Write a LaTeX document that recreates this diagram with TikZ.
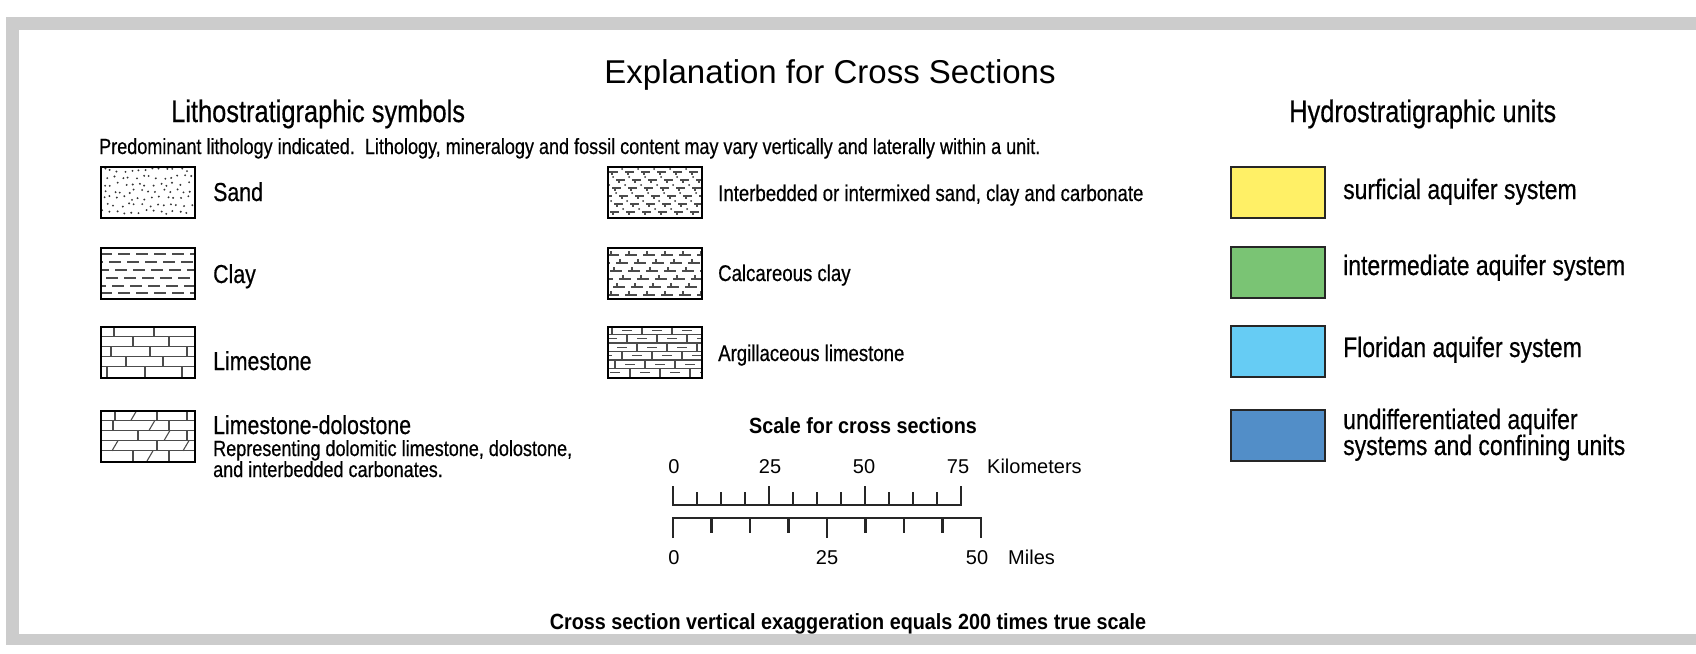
\documentclass[tikz,border=0pt]{standalone}
\usepackage{fontspec}
\setmainfont{Liberation Sans}
\newfontfamily\nar{Liberation Sans}[FakeStretch=0.82,FakeBold=0.5]
\newfontfamily\scl{Liberation Sans}[FakeStretch=0.9]
\definecolor{fgrey}{RGB}{204,204,204}
\definecolor{cyel}{RGB}{255,240,102}
\definecolor{cgrn}{RGB}{122,196,116}
\definecolor{clblue}{RGB}{102,204,244}
\definecolor{cdblue}{RGB}{82,142,200}
\tikzset{
  t/.style={inner sep=0pt, anchor=base west},
  titletext/.style={inner sep=0pt, anchor=base, font=\fontsize{33}{36}\selectfont},
  head/.style={t, font=\nar\fontsize{31}{34}\selectfont},
  note/.style={t, font=\nar\fontsize{22}{24}\selectfont},
  big/.style={t, font=\nar\fontsize{26}{28}\selectfont},
  mid/.style={t, font=\nar\fontsize{22.7}{24}\selectfont},
  hyd/.style={t, font=\nar\fontsize{28}{30}\selectfont},
  num/.style={inner sep=0pt, anchor=base, font=\fontsize{20}{22}\selectfont},
  unitlbl/.style={t, font=\fontsize{20}{22}\selectfont},
  boldtext/.style={inner sep=0pt, anchor=base, font=\scl\bfseries\fontsize{22}{24}\selectfont},
  pbox/.style={draw=black, line width=2.2pt, minimum width=94pt, minimum height=51pt, inner sep=0pt, anchor=north west},
  hbox/.style={draw=black!85, line width=2pt, minimum width=94pt, minimum height=51pt, inner sep=0pt, anchor=north west},
  patline/.style={line width=1.1pt, black!70},
  bar/.style={line width=2.6pt, black!85, line join=miter},
}
\begin{document}
\begin{tikzpicture}[x=1pt,y=-1pt]
\useasboundingbox (0,0) rectangle (1696,653);
\fill[white] (0,0) rectangle (1696,653);
% grey frame
\fill[fgrey] (6,17) rectangle (1696,30);
\fill[fgrey] (6,17) rectangle (19,645);
\fill[fgrey] (6,634) rectangle (1696,645);

% headings
\node[titletext] (title) at (830,83) {Explanation for Cross Sections};
\node[head] (lithohead) at (171,122) {Lithostratigraphic symbols};
\node[head] (hydrohead) at (1289,122) {Hydrostratigraphic units};
\node[note] (predom) at (99,154) {Predominant lithology indicated.\ \ Lithology, mineralogy and fossil content may vary vertically and laterally within a unit.};

% ---- Sand
\begin{scope}
\clip (100,166) rectangle (194,217);
\pgfmathsetseed{7}
\foreach \r in {0,...,6}{
  \foreach \c in {0,...,12}{
    \pgfmathsetmacro{\px}{104+7*\c+mod(\r,2)*3.5+(rnd-0.5)*4}
    \pgfmathsetmacro{\py}{170+7*\r+(rnd-0.5)*4}
    \fill[black!80] (\px,\py) circle (1.05);
  }
}
\end{scope}
\node[pbox] (sand) at (100,166) {};
\node[big] (sandlbl) at (213,201) {Sand};

% ---- Clay
\begin{scope}
\clip (100,247) rectangle (194,298);
\foreach \y/\ph in {254/0,262/9,270/3,278/12,286/6,293/0}
  \draw[patline, dash pattern=on 12pt off 6pt, dash phase=\ph pt] (100,\y) -- (194,\y);
\end{scope}
\node[pbox] (clay) at (100,247) {};
\node[big] (claylbl) at (213,283) {Clay};

% ---- Limestone
\begin{scope}
\clip (100,326) rectangle (194,377);
\foreach \y in {336.2,346.4,356.6,366.8} \draw[patline] (100,\y) -- (194,\y);
\foreach \x/\ya/\yb in {114/326/336.2, 154/326/336.2, 133/336.2/346.4, 169/336.2/346.4,
  111/346.4/356.6, 150/346.4/356.6, 187/346.4/356.6, 126/356.6/366.8, 163/356.6/366.8,
  107/366.8/377, 145/366.8/377, 182/366.8/377}
  \draw[patline] (\x,\ya) -- (\x,\yb);
\end{scope}
\node[pbox] (lime) at (100,326) {};
\node[big] (limelbl) at (213,370) {Limestone};

% ---- Limestone-dolostone
\begin{scope}
\clip (100,410) rectangle (194,461);
\foreach \y in {420.2,430.4,440.6,450.8} \draw[patline] (100,\y) -- (194,\y);
\foreach \x/\ya/\yb in {115/410/420.2, 157/410/420.2, 187/410/420.2, 113/420.2/430.4, 169/420.2/430.4,
  138/430.4/440.6, 187/430.4/440.6, 157/440.6/450.8, 133/450.8/461, 169/450.8/461}
  \draw[patline] (\x,\ya) -- (\x,\yb);
\foreach \x/\ya/\yb in {134/410/420.2, 152/420.2/430.4, 167/430.4/440.6, 115/440.6/450.8,
  186/440.6/450.8, 150/450.8/461}
  \draw[patline] ({\x-3},\yb) -- ({\x+3},\ya);
\end{scope}
\node[pbox] (dolo) at (100,410) {};
\node[big] (dololbl) at (213,434) {Limestone-dolostone};
\node[note] (dolonote1) at (213,456) {Representing dolomitic limestone, dolostone,};
\node[note] (dolonote2) at (213,477) {and interbedded carbonates.};

% ---- Interbedded
\begin{scope}
\clip (607,166) rectangle (701,217);
\foreach \y/\o in {172/0,180/7,188/3,196/10,204/5,212/1}{
  \foreach \x in {-16,0,16,...,96}{
    \draw[patline] ({609+\o+\x},\y) -- ({618+\o+\x},\y);
    \draw[patline] ({612+\o+\x},\y) -- ({612+\o+\x},{\y+3});
    \fill[black!80] ({622+\o+\x},{\y-3}) circle (1);
  }
}
\end{scope}
\node[pbox] (interb) at (607,166) {};
\node[mid] (interblbl) at (718,201) {Interbedded or intermixed sand, clay and carbonate};

% ---- Calcareous clay
\begin{scope}
\clip (607,247) rectangle (701,298);
\foreach \y/\o in {255/0,263/9,271/3,279/12,287/6,295/0}{
  \foreach \x in {-18,0,18,...,108}{
    \draw[patline] ({607+\o+\x},\y) -- ({619+\o+\x},\y);
    \draw[patline] ({611+\o+\x},\y) -- ({611+\o+\x},{\y-4});
  }
}
\end{scope}
\node[pbox] (calc) at (607,247) {};
\node[mid] (calclbl) at (718,281) {Calcareous clay};

% ---- Argillaceous limestone
\begin{scope}
\clip (607,326) rectangle (701,377);
\foreach \ya/\o in {326/5,334.5/20,343/0,351.5/15,360/8,368.5/23}{
  \draw[patline] (607,\ya) -- (701,\ya);
  \foreach \x in {-30,0,30,60,90}{
    \draw[patline] ({607+\o+\x},\ya) -- ({607+\o+\x},{\ya+8.5});
    \draw[patline] ({607+\o+\x+10},{\ya+4.25}) -- ({607+\o+\x+20},{\ya+4.25});
  }
}
\end{scope}
\node[pbox] (argil) at (607,326) {};
\node[mid] (argillbl) at (718,361) {Argillaceous limestone};

% ---- Hydrostratigraphic units
\node[hbox, fill=cyel] (surf) at (1230,166) {};
\node[hyd] (surflbl) at (1343,199) {surficial aquifer system};
\node[hbox, fill=cgrn] (inter) at (1230,246) {};
\node[hyd] (interlbl) at (1343,275) {intermediate aquifer system};
\node[hbox, fill=clblue] (flor) at (1230,325) {};
\node[hyd] (florlbl) at (1343,357) {Floridan aquifer system};
\node[hbox, fill=cdblue] (undiff) at (1230,409) {};
\node[hyd] (undifflbl1) at (1343,429) {undifferentiated aquifer};
\node[hyd] (undifflbl2) at (1343,455) {systems and confining units};

% ---- Scale
\node[boldtext] (scaletitle) at (863,433) {Scale for cross sections};
\coordinate (k0) at (673,505);
\coordinate (k12) at (961,505);
\draw[bar] (673,486) -- (k0) -- (k12) -- (961,486);
\foreach \k in {1,...,11}{
  \pgfmathsetmacro{\xx}{673+24*\k}
  \pgfmathsetmacro{\yy}{mod(\k,4)==0 ? 486 : 492}
  \draw[bar] (\xx,\yy) -- (\xx,505);
}
\node[num] (km0) at (674,473) {0};
\node[num] (km25) at (770,473) {25};
\node[num] (km50) at (864,473) {50};
\node[num] (km75) at (958,473) {75};
\node[unitlbl] (kmlbl) at (987,473) {Kilometers};

\coordinate (m0) at (673,518);
\coordinate (m8) at (981,518);
\draw[bar] (673,538) -- (m0) -- (m8) -- (981,538);
\foreach \k in {1,...,7}{
  \pgfmathsetmacro{\xx}{673+38.5*\k}
  \pgfmathsetmacro{\yy}{\k==4 ? 538 : 533}
  \draw[bar] (\xx,518) -- (\xx,\yy);
}
\node[num] (mi0) at (674,564) {0};
\node[num] (mi25) at (827,564) {25};
\node[num] (mi50) at (977,564) {50};
\node[unitlbl] (milbl) at (1008,564) {Miles};

\node[boldtext] (exag) at (848,629) {Cross section vertical exaggeration equals 200 times true scale};
\end{tikzpicture}
\end{document}
